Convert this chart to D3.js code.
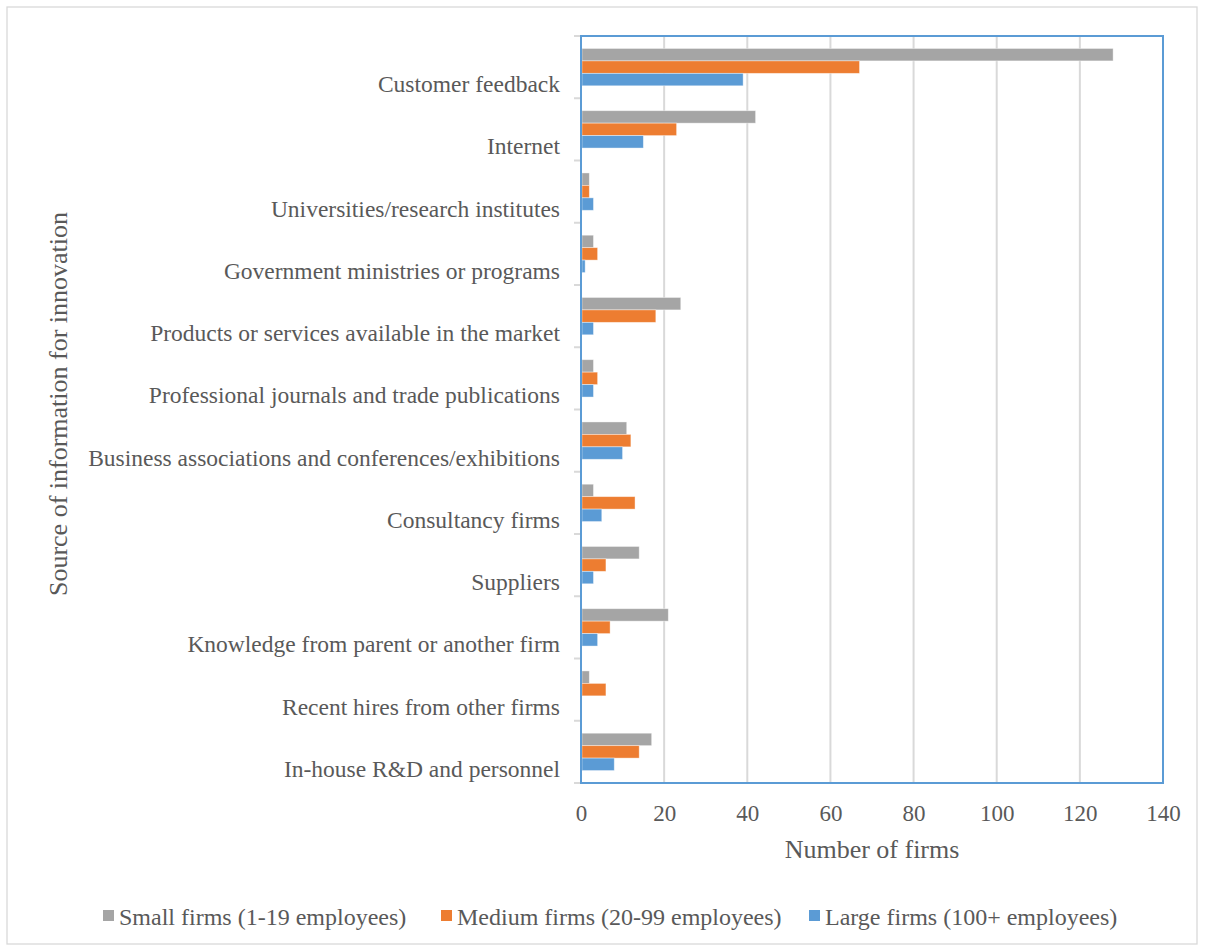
<!DOCTYPE html>
<html>
<head>
<meta charset="utf-8">
<script src="https://cdn.jsdelivr.net/npm/d3@7"></script>
<style>
  body { margin: 0; background: #fff; }
  text { font-family: "Liberation Serif", "Times New Roman", serif; fill: #595959; }
</style>
</head>
<body>
<div id="chart"></div>
<script>
const categories = ['Customer feedback', 'Internet', 'Universities/research institutes',
    'Government ministries or programs', 'Products or services available in the market',
    'Professional journals and trade publications', 'Business associations and conferences/exhibitions',
    'Consultancy firms', 'Suppliers', 'Knowledge from parent or another firm',
    'Recent hires from other firms', 'In-house R&D and personnel']
const small = [128, 42, 2, 3, 24, 3, 11, 3, 14, 21, 2, 17]
const medium = [67, 23, 2, 4, 18, 4, 12, 13, 6, 7, 6, 14]
const large = [39, 15, 3, 1, 3, 3, 10, 5, 3, 4, 0, 8]
const seriesNames = ['Small firms (1-19 employees)', 'Medium firms (20-99 employees)', 'Large firms (100+ employees)']
const colors = ['#A5A5A5', '#ED7D31', '#5B9BD5']
const xTicks = [0, 20, 40, 60, 80, 100, 120, 140]

const W = 1205, H = 951
const plot = { left: 581, right: 1163, top: 36, bottom: 783 }

const svg = d3.select('#chart').append('svg')
    .attr('width', W)
    .attr('height', H)

// outer chart border
svg.append('rect')
    .attr('x', 7).attr('y', 7)
    .attr('width', 1190).attr('height', 937)
    .attr('fill', 'none')
    .attr('stroke', '#D9D9D9')
    .attr('stroke-width', 1.3)

const x = d3.scaleLinear().domain([0, 140]).range([plot.left, plot.right])
const y = d3.scaleBand().domain(categories).range([plot.top, plot.bottom])
const inner = d3.scaleBand().domain(seriesNames).range([0, y.bandwidth()]).paddingOuter(1)

// gridlines
svg.append('g').selectAll('line')
    .data(xTicks.slice(1))
    .join('line')
    .attr('x1', d => x(d)).attr('x2', d => x(d))
    .attr('y1', plot.top).attr('y2', plot.bottom)
    .attr('stroke', '#D9D9D9')
    .attr('stroke-width', 2)

// category axis line + ticks at boundaries
svg.append('line')
    .attr('x1', plot.left).attr('x2', plot.left)
    .attr('y1', plot.top).attr('y2', plot.bottom)
    .attr('stroke', '#D9D9D9').attr('stroke-width', 2)

const bounds = categories.map(c => y(c)).concat([plot.bottom])
svg.append('g').selectAll('line')
    .data(bounds)
    .join('line')
    .attr('x1', plot.left - 7).attr('x2', plot.left)
    .attr('y1', d => d).attr('y2', d => d)
    .attr('stroke', '#D9D9D9').attr('stroke-width', 2)

// bars
const values = [small, medium, large]
const groups = svg.append('g').selectAll('g')
    .data(seriesNames)
    .join('g')
    .attr('fill', (d, i) => colors[i])

groups.selectAll('rect')
    .data((s, i) => categories.map((c, j) => ({ cat: c, series: s, value: values[i][j] })))
    .join('rect')
    .filter(d => d.value > 0)
    .attr('x', x(0) + 1)
    .attr('y', d => y(d.cat) + inner(d.series))
    .attr('width', d => x(d.value) - x(0) - 1)
    .attr('height', inner.bandwidth())
    .attr('stroke', 'rgba(255,255,255,0.5)')
    .attr('stroke-width', 0.8)

// plot area border
svg.append('rect')
    .attr('x', plot.left).attr('y', plot.top)
    .attr('width', plot.right - plot.left).attr('height', plot.bottom - plot.top)
    .attr('fill', 'none')
    .attr('stroke', '#5B9BD5')
    .attr('stroke-width', 2)

// category labels
svg.append('g').selectAll('text')
    .data(categories)
    .join('text')
    .attr('x', 560)
    .attr('y', d => y(d) + y.bandwidth() / 2 + 25)
    .attr('text-anchor', 'end')
    .style('font-size', '23.5px')
    .text(d => d)

// x axis
const xAxis = svg.append('g')
    .attr('transform', `translate(0, ${plot.bottom})`)
    .call(d3.axisBottom(x).tickValues(xTicks).tickSize(0))
xAxis.select('.domain').remove()
xAxis.selectAll('text')
    .attr('y', 38).attr('dy', 0)
    .style('font-size', '23px')
    .style('font-family', '"Liberation Serif", serif')
    .attr('fill', '#595959')

svg.append('text')
    .attr('x', (plot.left + plot.right) / 2)
    .attr('y', 858)
    .attr('text-anchor', 'middle')
    .style('font-size', '26px')
    .text('Number of firms')

svg.append('text')
    .attr('transform', 'translate(67, 404) rotate(-90)')
    .attr('text-anchor', 'middle')
    .style('font-size', '26px')
    .text('Source of information for innovation')

// legend
const legendX = [103, 441, 809]
const legend = svg.append('g').selectAll('g')
    .data(seriesNames)
    .join('g')
    .attr('transform', (d, i) => `translate(${legendX[i]}, 925)`)
legend.append('rect')
    .attr('x', 0).attr('y', -15)
    .attr('width', 11).attr('height', 11)
    .attr('fill', (d, i) => colors[i])
legend.append('text')
    .attr('x', 16)
    .style('font-size', '24px')
    .text(d => d)
</script>
</body>
</html>
